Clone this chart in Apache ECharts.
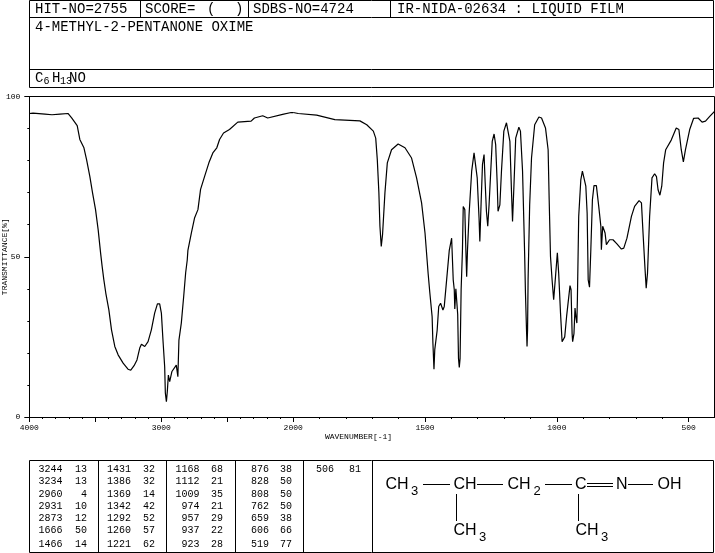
<!DOCTYPE html>
<html>
<head>
<meta charset="utf-8">
<style>
  html, body { margin: 0; padding: 0; background: #fff; }
  #chart { width: 715px; height: 553px; }
</style>
<script src="https://cdn.jsdelivr.net/npm/echarts@6/dist/echarts.min.js"></script>
</head>
<body>
<div id="chart"></div>
<script>
// spectrum: [wavenumber, transmittance]
const highBand = [
  [4000,94.7],[3972,94.8],[3881,94.5],[3828,94.3],[3768,94.5],[3707,94.7],[3679,93.3],[3637,90.9],[3617,86.6],[3586,84],
  [3566,80.3],[3541,75],[3521,70],[3498,64.7],[3478,58.4],[3460,51.3],[3448,47],[3435,42.8],[3420,38.6],[3397,33.4],
  [3377,27.2],[3352,22],[3327,19.4],[3289,16.8],[3252,14.9],[3231,14.6],[3206,16],[3184,17.8],[3163,21.5],[3150,22.7],
  [3125,22],[3100,23.5],[3075,27.2],[3050,32.4],[3029,35.3],[3012,35.3],[2999,32.4],[2987,24],[2974,15.7],[2969,7.5],
  [2961,4.8],[2958,4.8],[2954,8],[2946,13.1],[2936,11],[2919,14.2],[2904,13.6],[2886,16.2],[2874,12.6],[2866,24],
  [2848,29.3],[2830,37.6],[2815,45],[2803,49],[2798,52],[2772,57.4],[2747,62.2],[2722,64.7],[2702,71],[2672,75],
  [2639,79.3],[2609,82.4],[2579,84],[2558,86.6],[2528,88.6],[2483,89.7],[2420,92],[2407,92],[2319,92.3],[2294,93.3],
  [2231,94],[2193,93.3],[2080,94.4],[2016,95],[2000,95]
];
const lowBand = [
  [2000,95],[1981,94.7],[1911,94.2],[1842,92.8],[1747,92.4],[1721,91.2],[1696,89.2],[1687,87],[1681,80.3],[1675,70],
  [1671,59.5],[1666,53.2],[1661,57],[1652,70],[1643,79.3],[1627,83.4],[1602,85.2],[1576,84],[1551,80.8],[1532,74.6],
  [1513,66.8],[1500,57.4],[1488,44.6],[1482,39],[1473,31.3],[1470,23],[1466,14.9],[1463,21],[1454,27],[1448,34.5],
  [1441,35.5],[1432,33.4],[1427,34.5],[1418,42.8],[1408,52],[1399,55.8],[1393,42.8],[1389,39.7],[1387,33.7],[1383,40],
  [1376,32],[1373,18.3],[1370,15.5],[1367,18.3],[1363,39.7],[1358,52],[1355,65.7],[1349,64.7],[1345,52],[1342,43.8],
  [1339,51.7],[1333,63],[1323,76.7],[1314,82.4],[1307,82.4],[1302,74.6],[1298,67.3],[1295,62],[1292,54.8],[1287,67.3],
  [1282,78.8],[1276,81.9],[1272,73.5],[1267,64.2],[1262,59.5],[1257,66.2],[1251,76.1],[1245,86],[1238,88.3],[1232,85],
  [1226,72.5],[1223,64.2],[1216,66.2],[1210,76.7],[1201,89.2],[1191,91.8],[1184,91.8],[1178,86],[1172,70.4],[1168,61],
  [1163,71.5],[1156,87],[1144,90.4],[1138,89.2],[1130,76.7],[1122,50.6],[1119,38.7],[1115,27.2],[1113,22],[1111,27.2],
  [1109,42.8],[1103,66.2],[1096,80.8],[1084,91.2],[1068,93.6],[1058,93.3],[1043,90.2],[1033,83.4],[1029,67.8],[1024,50.1],
  [1018,42.8],[1012,36.6],[1005,43.8],[998,51.2],[993,44.9],[986,32.4],[980,23.5],[976,23],[970,25],[963,31.3],
  [956,31.3],[950,41],[946,39.7],[942,26],[940,23.5],[935,26],[931,34],[928,31.5],[924,29.3],[922,36.6],
  [917,62.6],[909,74],[903,76.7],[897,76.7],[890,72],[885,63.6],[881,42.8],[876,40.5],[871,52.2],[865,67.8],
  [859,72.2],[850,72.2],[841,65.7],[833,59.5],[831,52.2],[826,59.5],[822,59.7],[817,57.4],[812,53.8],[800,55.3],
  [787,55.3],[772,54],[755,52.4],[746,52.7],[734,55.8],[717,62.6],[705,65.7],[688,67.5],[679,66.8],[673,57.4],
  [666,47],[661,40.2],[656,44.9],[648,62.6],[639,74.6],[629,75.9],[622,75],[616,70.9],[609,69.2],[602,72],
  [595,79.3],[587,83.4],[566,86.4],[547,90.2],[537,89.7],[528,83.4],[520,79.6],[512,83.4],[496,89.7],[481,93.2],
  [464,93.3],[449,92],[436,92.3],[420,93.8],[400,95.5]
];

const highLabels = [4000, 3000, 2000];
const lowLabels = [1500, 1000, 500];
const highMajorTicks = [4000, 3500, 3000, 2500, 2000];
const lowMajorTicks = [2000, 1500, 1000, 500];
const yLabels = [0, 50, 100];

const hitNo = 'HIT-NO=2755';
const scoreText = 'SCORE=';
const sdbsNo = 'SDBS-NO=4724';
const irNo = 'IR-NIDA-02634 : LIQUID FILM';
const compoundName = '4-METHYL-2-PENTANONE OXIME';

const peakWavenumbers = [3244,3234,2960,2931,2873,1666,1466, 1431,1386,1369,1342,1292,1260,1221,
  1168,1112,1009,974,957,937,923, 876,828,808,762,659,606,519, 506];
const peakTransmittance = [13,13,4,10,12,50,14, 32,32,14,42,52,57,62,
  68,21,35,21,29,22,28, 38,50,50,50,38,66,77, 81];

const chart = echarts.init(document.getElementById('chart'), null, { renderer: 'canvas' });

const mono = 'Liberation Mono';
const sans = 'Liberation Sans';

function label(text, x, y, size, opts) {
  return {
    type: 'text', silent: true, x: x, y: y,
    style: Object.assign({ text: String(text), fill: '#000', font: size + 'px "' + mono + '"', textVerticalAlign: 'middle' }, opts || {})
  };
}
function rule(x1, y1, x2, y2) {
  return { type: 'line', silent: true, shape: { x1, y1, x2, y2 }, style: { stroke: '#000', lineWidth: 1 } };
}

const plotTop = 96.5, plotBottom = 417, plotLeft = 29.3, plotMid = 293.2, plotRight = 714.5;

const graphics = [
  // header box
  rule(29.5, 0.5, 713.5, 0.5), rule(29.5, 17.5, 713.5, 17.5), rule(29.5, 69.5, 713.5, 69.5), rule(29.5, 87.5, 713.5, 87.5),
  rule(29.5, 0.5, 29.5, 87.5), rule(713.5, 0.5, 713.5, 87.5),
  rule(140.5, 0.5, 140.5, 17.5), rule(248.5, 0.5, 248.5, 17.5), rule(390.5, 0.5, 390.5, 17.5),
  label(hitNo, 35, 9.5, 14), label(scoreText, 145, 9.5, 14), label('(', 207, 9.5, 14), label(')', 235, 9.5, 14),
  label(sdbsNo, 253, 9.5, 14), label(irNo, 397, 9.5, 14), label(compoundName, 35, 27, 14),
  label('C', 35, 78, 14), label('6', 43.5, 81, 10), label('H', 52, 78, 14), label('13', 60, 81, 10), label('NO', 69, 78, 14),
  // plot frame top and right
  rule(plotLeft, plotTop, plotRight, plotTop), rule(plotRight, plotTop, plotRight, plotBottom),
  label('WAVENUMBER[-1]', 358.5, 437, 8, { textAlign: 'center' }),
  // peak table box
  rule(29.5, 460.5, 713.5, 460.5), rule(29.5, 552.5, 713.5, 552.5), rule(29.5, 460.5, 29.5, 552.5), rule(713.5, 460.5, 713.5, 552.5),
  rule(98.5, 460.5, 98.5, 552.5), rule(166.5, 460.5, 166.5, 552.5), rule(235.5, 460.5, 235.5, 552.5),
  rule(303.5, 460.5, 303.5, 552.5), rule(372.5, 460.5, 372.5, 552.5)
];

// peak table, 7 rows per column
const wnRight = [62.5, 131, 199.5, 269, 334];
const tRight = [87, 155, 223, 292, 361];
const rowY = [469.5, 481.8, 494, 506.2, 518.5, 530.8, 544];
peakWavenumbers.forEach((wn, i) => {
  const col = Math.floor(i / 7), row = i % 7;
  graphics.push(label(wn, wnRight[col], rowY[row], 10, { textAlign: 'right' }));
  graphics.push(label(peakTransmittance[i], tRight[col], rowY[row], 10, { textAlign: 'right' }));
});

// structure drawing
function atom(text, x, y) { return label(text, x, y, 16, { font: '16px "' + sans + '"' }); }
function sub(text, x, y) { return label(text, x, y, 13, { font: '13px "' + sans + '"' }); }
graphics.push(
  atom('CH', 385.5, 485), sub('3', 411, 491),
  rule(423, 484.5, 450, 484.5),
  atom('CH', 453.5, 485),
  rule(477, 484.5, 503, 484.5),
  atom('CH', 507.5, 485), sub('2', 533.5, 491),
  rule(545, 484.5, 572, 484.5),
  atom('C', 575, 485),
  rule(587, 483.5, 613, 483.5), rule(587, 486.5, 613, 486.5),
  atom('N', 616, 485),
  rule(628, 484.5, 653, 484.5),
  atom('OH', 657.5, 485),
  rule(456.5, 494, 456.5, 521), rule(578.5, 494, 578.5, 521),
  atom('CH', 453.5, 531), sub('3', 479, 537),
  atom('CH', 575.5, 531), sub('3', 601, 537)
);

const axisText = { fontFamily: mono, fontSize: 8, color: '#000' };
const plainNumber = v => String(v);

function xPair(gridIndex, min, max, majorTicks, labels) {
  const line = { lineStyle: { color: '#000', width: 1 } };
  return [
    {
      type: 'value', gridIndex, min, max, inverse: true, interval: 100,
      axisLine: { show: true, onZero: false, lineStyle: line.lineStyle },
      axisTick: { show: true, length: 2, lineStyle: line.lineStyle },
      axisLabel: { show: false }, splitLine: { show: false }
    },
    {
      type: 'value', gridIndex, min, max, inverse: true, position: 'bottom',
      axisLine: { show: false },
      axisTick: { show: true, length: 5, customValues: majorTicks, lineStyle: line.lineStyle },
      axisLabel: Object.assign({ show: true, margin: 7, customValues: labels, showMinLabel: true, showMaxLabel: true, formatter: plainNumber }, axisText),
      splitLine: { show: false }
    }
  ];
}

const option = {
  animation: false,
  backgroundColor: '#fff',
  grid: [
    { left: plotLeft, top: plotTop, width: plotMid - plotLeft, height: plotBottom - plotTop, containLabel: false, outerBoundsMode: 'none' },
    { left: plotMid, top: plotTop, width: 715 - plotMid, height: plotBottom - plotTop, containLabel: false, outerBoundsMode: 'none' }
  ],
  xAxis: [
    ...xPair(0, 2000, 4000, highMajorTicks, highLabels),
    ...xPair(1, 400, 2000, lowMajorTicks, lowLabels)
  ],
  yAxis: [
    {
      type: 'value', gridIndex: 0, min: 0, max: 100, interval: 10,
      name: 'TRANSMITTANCE[%]', nameLocation: 'middle', nameGap: 20,
      nameTextStyle: axisText,
      axisLine: { show: true, lineStyle: { color: '#000', width: 1 } },
      axisTick: { show: true, length: 2, lineStyle: { color: '#000', width: 1 } },
      axisLabel: { show: false }, splitLine: { show: false }
    },
    {
      type: 'value', gridIndex: 0, min: 0, max: 100, position: 'left',
      axisLine: { show: false },
      axisTick: { show: true, length: 5, customValues: yLabels, lineStyle: { color: '#000', width: 1 } },
      axisLabel: Object.assign({ show: true, margin: 9, customValues: yLabels, showMinLabel: true, showMaxLabel: true }, axisText),
      splitLine: { show: false }
    },
    { type: 'value', gridIndex: 1, min: 0, max: 100, show: false }
  ],
  series: [
    {
      type: 'line', xAxisIndex: 0, yAxisIndex: 0, data: highBand, showSymbol: false, silent: true, clip: false,
      lineStyle: { color: '#000', width: 1.2 }
    },
    {
      type: 'line', xAxisIndex: 2, yAxisIndex: 2, data: lowBand, showSymbol: false, silent: true, clip: false,
      lineStyle: { color: '#000', width: 1.2 }
    }
  ],
  graphic: graphics
};

chart.setOption(option);
</script>
</body>
</html>
